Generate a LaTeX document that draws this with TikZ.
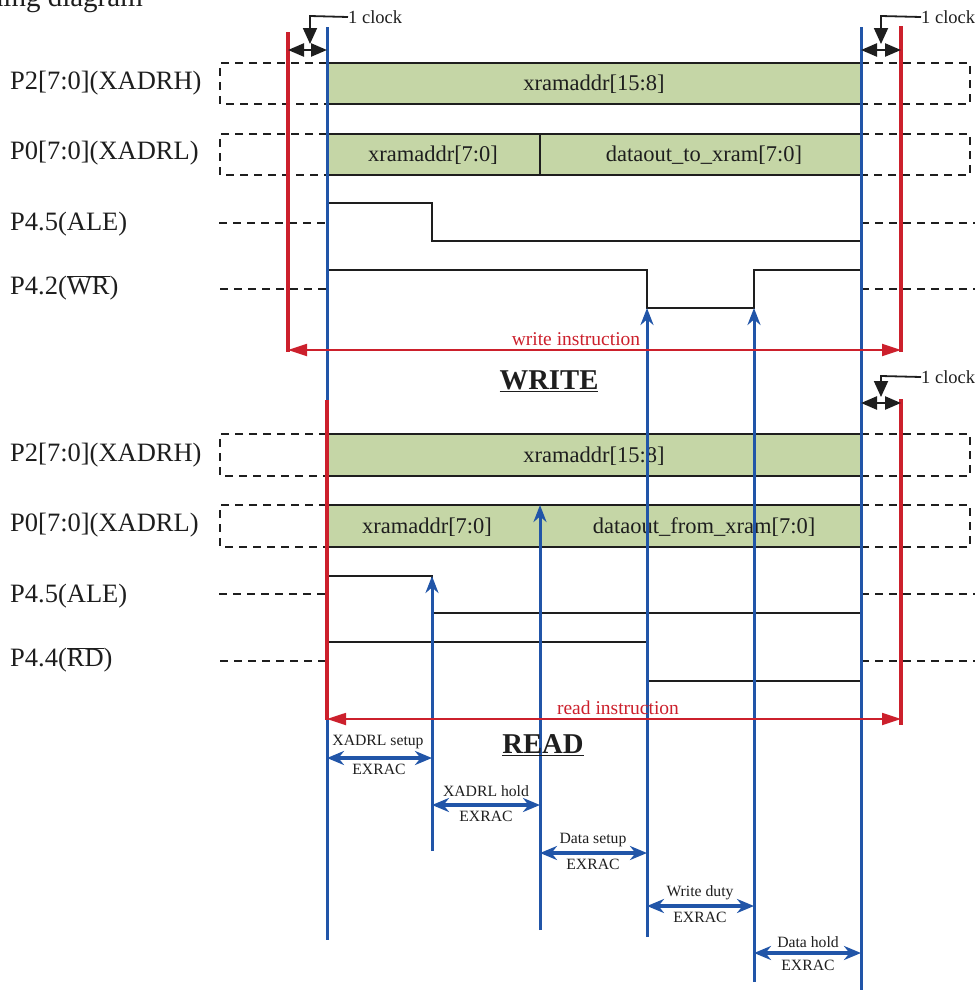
\documentclass[tikz,border=0pt]{standalone}
\usepackage{fontspec}
\setmainfont{Liberation Serif}
\usetikzlibrary{arrows.meta}
\definecolor{sigfill}{RGB}{197,214,166}
\definecolor{tblue}{RGB}{33,85,168}
\definecolor{tred}{RGB}{204,32,44}
\definecolor{ink}{RGB}{30,30,30}
\begin{document}
\begin{tikzpicture}[x=1pt,y=-1pt,
 sig/.style={line width=2.4pt, ink},
 dsh/.style={line width=2.4pt, ink, dash pattern=on 8pt off 6pt},
 busbox/.style={line width=2.4pt, ink, fill=sigfill},
 lbl/.style={font=\fontsize{26.5}{30}\selectfont, anchor=west, inner sep=0, text=ink},
 bustxt/.style={font=\fontsize{22.5}{26}\selectfont, inner sep=0, text=ink},
 marker/.style={line width=3pt, tblue},
 bmarker/.style={marker, -{Stealth[length=17pt,width=13pt]}},
 redline/.style={line width=3.5pt, tred},
 instr/.style={line width=1.8pt, tred, {Triangle[length=19pt,width=12pt]}-{Triangle[length=19pt,width=12pt]}},
 instrtxt/.style={font=\fontsize{19.5}{22}\selectfont, inner sep=0, text=tred},
 meas/.style={line width=3.5pt, tblue, {Stealth[length=17pt,width=14pt]}-{Stealth[length=17pt,width=14pt]}},
 small/.style={font=\fontsize{15.7}{18}\selectfont, inner sep=0, text=ink},
 clk/.style={line width=2.4pt, ink, {Triangle[length=16pt,width=13pt]}-{Triangle[length=16pt,width=13pt]}},
 clkbend/.style={line width=1.8pt, ink, -{Triangle[length=16pt,width=14pt]}},
 clktxt/.style={font=\fontsize{18.5}{21}\selectfont, inner sep=0, anchor=west, text=ink},
 big/.style={font=\fontsize{28.7}{32}\selectfont\bfseries, inner sep=0, text=ink},
]
\useasboundingbox (0,0) rectangle (980,991);

% partially visible title
\node[font=\fontsize{29}{32}\selectfont, anchor=base east, inner sep=0, text=ink] (title) at (143,6) {Timing diagram};

% ================= WRITE =================
\draw[dsh] (327,63) -- (220,63) -- (220,104) -- (327,104);
\draw[dsh] (861,63) -- (970,63) -- (970,104) -- (861,104);
\draw[dsh] (327,134) -- (220,134) -- (220,175) -- (327,175);
\draw[dsh] (861,134) -- (970,134) -- (970,175) -- (861,175);
\draw[dsh] (219,223) -- (327,223);
\draw[dsh] (861,223) -- (975,223);
\draw[dsh] (220,289) -- (327,289);
\draw[dsh] (861,289) -- (975,289);
\draw[busbox] (327,63) rectangle (861,104);
\draw[busbox] (327,134) rectangle (861,175);
\draw[sig] (540,134) -- (540,175);
\node[bustxt] (wa1) at (594,84) {xramaddr[15:8]};
\node[bustxt] (wa2) at (433,155) {xramaddr[7:0]};
\node[bustxt] (wa3) at (704,155) {dataout\_to\_xram[7:0]};
\draw[sig] (327,203) -- (432,203) -- (432,241) -- (861,241);
\draw[sig] (327,270) -- (647,270) -- (647,308) -- (754,308) -- (754,270) -- (861,270);
\node[lbl] (w1) at (10,83) {P2[7:0](XADRH)};
\node[lbl] (w2) at (10,153) {P0[7:0](XADRL)};
\node[lbl] (w3) at (10,224) {P4.5(ALE)};
\node[lbl] (w4) at (10,288) {P4.2($\overline{\hbox{WR}}$)};

% ================= READ =================
\draw[dsh] (327,434) -- (220,434) -- (220,476) -- (327,476);
\draw[dsh] (861,434) -- (970,434) -- (970,476) -- (861,476);
\draw[dsh] (327,505) -- (220,505) -- (220,547) -- (327,547);
\draw[dsh] (861,505) -- (970,505) -- (970,547) -- (861,547);
\draw[dsh] (219,594) -- (327,594);
\draw[dsh] (861,594) -- (975,594);
\draw[dsh] (220,661) -- (327,661);
\draw[dsh] (861,661) -- (975,661);
\draw[busbox] (327,434) rectangle (861,476);
\draw[busbox] (327,505) rectangle (861,547);
\node[bustxt] (ra1) at (594,456) {xramaddr[15:8]};
\node[bustxt] (ra2) at (427,527) {xramaddr[7:0]};
\node[bustxt] (ra3) at (704,527) {dataout\_from\_xram[7:0]};
\draw[sig] (327,576) -- (432,576) -- (432,613) -- (861,613);
\draw[sig] (327,642) -- (647,642) -- (647,681) -- (861,681);
\node[lbl] (r1) at (10,455) {P2[7:0](XADRH)};
\node[lbl] (r2) at (10,525) {P0[7:0](XADRL)};
\node[lbl] (r3) at (10,596) {P4.5(ALE)};
\node[lbl] (r4) at (10,660) {P4.4($\overline{\hbox{RD}}$)};

% ================= blue markers =================
\coordinate (b1t) at (327,27);  \coordinate (b1b) at (327,940);
\coordinate (b6t) at (861,27);  \coordinate (b6b) at (861,990);
\coordinate (b2t) at (432,576); \coordinate (b2b) at (432,851);
\coordinate (b3t) at (540,505); \coordinate (b3b) at (540,930);
\coordinate (b4t) at (647,308); \coordinate (b4b) at (647,937);
\coordinate (b5t) at (754,308); \coordinate (b5b) at (754,982);
\draw[marker] (b1t) -- (b1b);
\draw[marker] (b6t) -- (b6b);
\draw[bmarker] (b2b) -- (b2t);
\draw[bmarker] (b3b) -- (b3t);
\draw[bmarker] (b4b) -- (b4t);
\draw[bmarker] (b5b) -- (b5t);

% ================= red instruction frames =================
\coordinate (wl) at (288,350); \coordinate (wr) at (901,350);
\draw[redline] (288,32) -- (288,352);
\draw[redline] (901,26) -- (901,352);
\draw[instr] (wl) -- (wr);
\node[instrtxt] (wit) at (576,339) {write instruction};
\node[big] (wtitle) at (549,381) {\underline{WRITE}};

\coordinate (rl) at (327,719); \coordinate (rr) at (901,719);
\draw[redline] (327,400) -- (327,720);
\draw[redline] (901,399) -- (901,725);
\draw[instr] (rl) -- (rr);
\node[instrtxt] (rit) at (618,708) {read instruction};
\node[big] (rtitle) at (543,745) {\underline{READ}};

% ================= 1 clock =================
\coordinate (c1a) at (288,50); \coordinate (c1b) at (327,50);
\draw[clk] (c1a) -- (c1b);
\node[clktxt] (c1t) at (348,17) {1 clock};
\draw[clkbend] (c1t.west) -- (310,16) -- (310,44);

\coordinate (c2a) at (861,50); \coordinate (c2b) at (901,50);
\draw[clk] (c2a) -- (c2b);
\node[clktxt] (c2t) at (921,17) {1 clock};
\draw[clkbend] (c2t.west) -- (881,16) -- (881,44);

\coordinate (c3a) at (861,403); \coordinate (c3b) at (901,403);
\draw[clk] (c3a) -- (c3b);
\node[clktxt] (c3t) at (921,377) {1 clock};
\draw[clkbend] (c3t.west) -- (881,376) -- (881,397);

% ================= timing measurements =================
\draw[meas] (327,758) -- (432,758);
\node[small] (m1a) at (378,742) {XADRL setup};
\node[small] (m1b) at (379,769) {EXRAC};
\draw[meas] (432,805) -- (540,805);
\node[small] (m2a) at (486,791) {XADRL hold};
\node[small] (m2b) at (486,816) {EXRAC};
\draw[meas] (540,853) -- (647,853);
\node[small] (m3a) at (593,840) {Data setup};
\node[small] (m3b) at (593,864) {EXRAC};
\draw[meas] (647,906) -- (754,906);
\node[small] (m4a) at (700,893) {Write duty};
\node[small] (m4b) at (700,917) {EXRAC};
\draw[meas] (754,953) -- (861,953);
\node[small] (m5a) at (808,942) {Data hold};
\node[small] (m5b) at (808,965) {EXRAC};
\end{tikzpicture}
\end{document}
